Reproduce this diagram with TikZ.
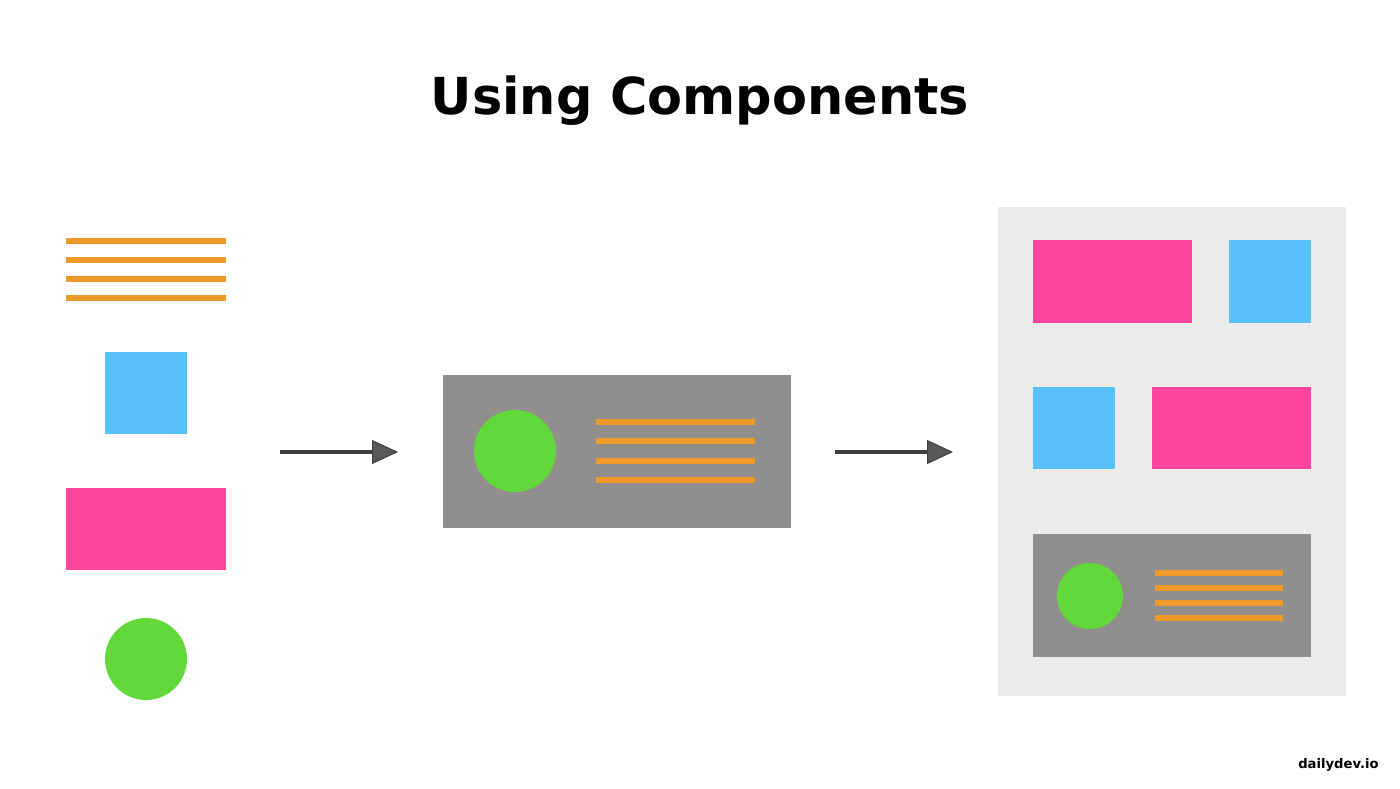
\documentclass[tikz,border=0pt]{standalone}
\usepackage{fontspec}
\setmainfont{DejaVu Sans}
\usetikzlibrary{arrows.meta}
\definecolor{orng}{RGB}{238,154,42}
\definecolor{pnk}{RGB}{255,69,160}
\definecolor{blu}{RGB}{90,192,250}
\definecolor{grn}{RGB}{98,216,59}
\definecolor{crd}{RGB}{144,143,141}
\definecolor{pnl}{RGB}{235,235,235}

\begin{document}
\begin{tikzpicture}[x=0.02cm,y=-0.02cm,
	txtline/.style={orng,line width=0.13cm},
	flow/.style={black!75,line width=0.08cm,-{Triangle[length=0.52cm,width=0.48cm,fill=black!65,line width=0.6pt]}}]
	\useasboundingbox[fill=white] (0,0) rectangle (1400,788);
	\node[anchor=base,font=\bfseries\fontsize{29}{31}\selectfont,inner sep=0pt] (title) at (700,114) {Using Components}; %title
	% parts
	\foreach \y in {241,260,279,298} \draw[txtline] (66,\y) -- (226,\y); %text
	\fill[blu] (105,352) rectangle (187,434); %square
	\fill[pnk] (66,488) rectangle (226,570); %rect
	\fill[grn] (146,659) circle (41); %circle
	% card
	\coordinate (a1) at (280,452);
	\coordinate (a2) at (398,452);
	\draw[flow] (a1) -- (a2);
	\fill[crd] (443,375) rectangle (791,528);
	\fill[grn] (515,451) circle (41);
	\foreach \y in {422,441,461,480} \draw[txtline] (596,\y) -- (755,\y);
	% page
	\coordinate (b1) at (835,452);
	\coordinate (b2) at (953,452);
	\draw[flow] (b1) -- (b2);
	\fill[pnl] (998,207) rectangle (1346,696);
	\fill[pnk] (1033,240) rectangle (1192,323);
	\fill[blu] (1229,240) rectangle (1311,323);
	\fill[blu] (1033,387) rectangle (1115,469);
	\fill[pnk] (1152,387) rectangle (1311,469);
	\fill[crd] (1033,534) rectangle (1311,657);
	\fill[grn] (1090,596) circle (33);
	\foreach \y in {573,588,603,618} \draw[txtline] (1155,\y) -- (1283,\y);
	\node[anchor=base east,font=\bfseries\fontsize{7.5}{9}\selectfont,inner sep=0pt] (brand) at (1379,768) {dailydev.io}; %brand
\end{tikzpicture}
\end{document}
